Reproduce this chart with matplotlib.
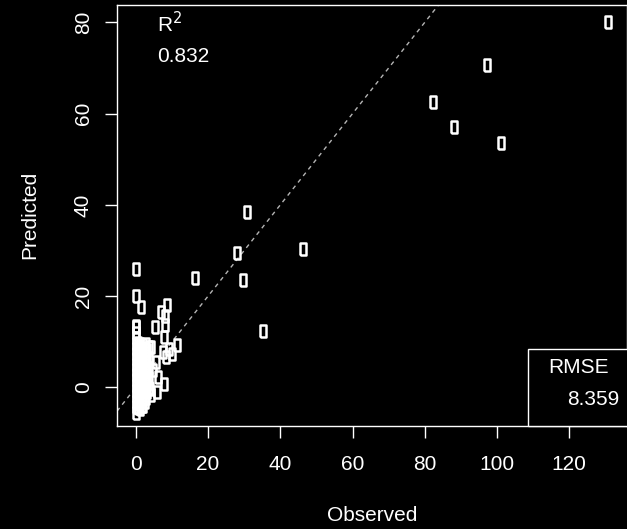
"""
Observed vs predicted scatter with 1:1 line, R^2 and RMSE annotations
(R base-graphics look: black background, white hollow markers).
"""
import numpy as np
import matplotlib
matplotlib.use('Agg')
import matplotlib.pyplot as plt
from matplotlib.patches import Rectangle

# outliers and the spread-out points
obs_far = [130.8, 97.3, 82.4, 88.1, 101.2, 30.9, 46.3, 27.9, 29.6, 16.3, 35.1]
pred_far = [80.1, 70.7, 62.6, 57.0, 53.5, 38.4, 30.3, 29.4, 23.5, 24.0, 12.4]

# points around the low end (0-12 observed)
obs_low = [0.1, 0.0, 1.5, 7.0, 8.6, 8.2, 0.1, 5.2, 8.0, 7.7, 4.3, 11.5, 10.1, 8.4,
           7.5, 5.7, 4.7, 7.7, 5.8, 3.8, 4.3, 6.2, 9.3, 3.2]
pred_low = [25.9, 20.1, 17.7, 16.6, 18.0, 15.6, 13.5, 13.3, 13.6, 11.0, 8.9, 9.3, 7.2, 6.7,
            7.8, 5.6, 3.9, 0.7, -1.0, -0.4, -1.7, 2.2, 8.5, 1.8]

# dense cluster near the origin, read column by column
obs_cluster = ([0.0] * 17 + [0.5] * 9 + [0.9] * 8 + [1.2] * 9 + [1.6] * 8
               + [2.0] * 8 + [2.4] * 7 + [2.8] * 7 + [3.2] * 5 + [3.6] * 5)
pred_cluster = ([13.2, 12.0, 10.8, 9.6, 8.5, 7.3, 6.1, 5.0, 3.8, 2.6, 1.5, 0.3, -0.9, -2.0, -3.2, -4.4, -5.6]
                + [9.8, 8.0, 6.3, 4.5, 2.7, 0.9, -0.9, -2.7, -4.5]
                + [8.9, 7.1, 5.4, 3.6, 1.8, 0.0, -1.8, -3.6]
                + [9.5, 7.6, 5.8, 4.0, 2.2, 0.4, -1.4, -3.2, -4.8]
                + [8.6, 6.7, 4.9, 3.1, 1.3, -0.5, -2.3, -4.0]
                + [9.2, 7.2, 5.2, 3.2, 1.2, -0.8, -2.6, -4.0]
                + [8.3, 6.2, 4.2, 2.2, 0.2, -1.7, -3.3]
                + [9.6, 7.5, 5.4, 3.3, 1.3, -0.7, -2.3]
                + [8.1, 5.8, 3.6, 1.2, -1.0]
                + [8.8, 6.5, 4.2, 2.0, -0.2])

observed = np.array(obs_far + obs_low + obs_cluster)
predicted = np.array(pred_far + pred_low + pred_cluster)

r2_text = '0.832'
rmse_text = '8.359'
x_ticks = [0, 20, 40, 60, 80, 100, 120]
y_ticks = [0, 20, 40, 60, 80]

plt.rcParams['font.family'] = ['Liberation Sans', 'DejaVu Sans']
fg = 'white'

fig = plt.figure(figsize=(6.27, 5.29), dpi=100, facecolor='black')
ax = fig.add_axes([117 / 627, 1 - 425.5 / 529, 510 / 627, 420.5 / 529])
ax.set_facecolor('black')

# tall hollow rectangle, like the "0" symbols in the original
box_marker = [(-0.26, -0.5), (0.26, -0.5), (0.26, 0.5), (-0.26, 0.5), (-0.26, -0.5)]
ax.plot(observed, predicted, linestyle='none', marker=box_marker, markersize=8,
        markerfacecolor='none', markeredgecolor=fg, markeredgewidth=1.8, zorder=3)

ax.axline((0, 0), slope=1, color='#b4b4b4', lw=1.0, linestyle=(0, (3, 3)), zorder=2)

ax.set_xlim(-5.23, 136.0)
ax.set_ylim(-8.37, 83.8)
ax.set_xticks(x_ticks)
ax.set_yticks(y_ticks)
for sp in ax.spines.values():
    sp.set_color(fg)
    sp.set_linewidth(1.0)
ax.tick_params(colors=fg, labelcolor=fg, labelsize=15, length=8.5, width=1.0)
ax.tick_params(axis='x', pad=13)
ax.tick_params(axis='y', pad=9)
for lbl in ax.get_yticklabels():
    lbl.set_rotation(90)
    lbl.set_va('center')

ax.set_xlabel('Observed', color=fg, fontsize=15)
ax.set_ylabel('Predicted', color=fg, fontsize=15)
ax.xaxis.set_label_coords(0.5, -0.213)
ax.xaxis.label.set_va('center')
ax.yaxis.set_label_coords(-0.171, 0.5)
ax.yaxis.label.set_va('center')

# R^2 legend (no box) top left
ax.text(0.078, 0.9565, r'R$^2$', transform=ax.transAxes, color=fg, fontsize=15,
        ha='left', va='center')
ax.text(0.078, 0.8766, r2_text, transform=ax.transAxes, color=fg, fontsize=15,
        ha='left', va='center')

# RMSE legend with a box, bottom right
ax.add_patch(Rectangle((0.806, 0.0), 0.3, 0.182, transform=ax.transAxes,
                       facecolor='black', edgecolor=fg, lw=1.0, zorder=4, clip_on=False))
ax.text(0.905, 0.137, 'RMSE', transform=ax.transAxes, color=fg, fontsize=15,
        ha='center', va='center', zorder=5)
ax.text(0.933, 0.061, rmse_text, transform=ax.transAxes, color=fg, fontsize=15,
        ha='center', va='center', zorder=5)

fig.savefig('out.png', dpi=100, facecolor='black')
